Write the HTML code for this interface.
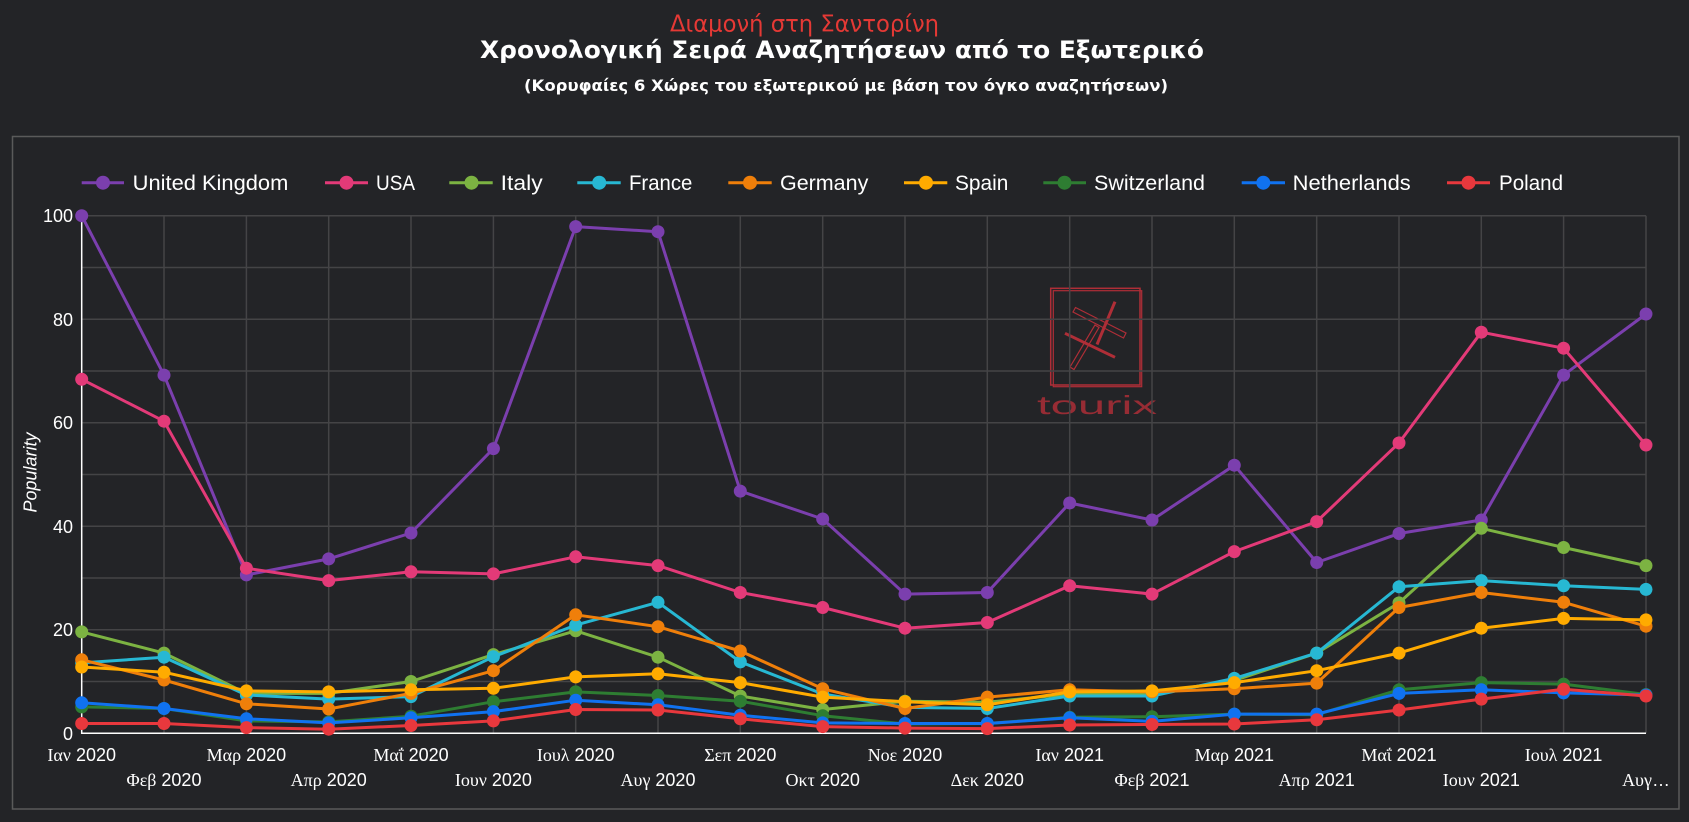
<!DOCTYPE html>
<html>
<head>
<meta charset="utf-8">
<style>
  html, body { margin:0; padding:0; background:#232427; }
  body { width:1689px; height:822px; overflow:hidden; }
  svg { display:block; }
  text { font-family:"Liberation Sans", "DejaVu Sans", sans-serif; }
  .gr { font-family:"Liberation Serif", "DejaVu Serif", serif; }
  .tt { font-family:"DejaVu Sans", "Liberation Sans", sans-serif; }
</style>
</head>
<body>
<svg width="1689" height="822" viewBox="0 0 1689 822" xmlns="http://www.w3.org/2000/svg">
  <rect x="0" y="0" width="1689" height="822" fill="#232427"/>

  <!-- Titles -->
  <text class="tt" x="670" y="31.5" font-size="23" fill="#e53935" textLength="269" lengthAdjust="spacingAndGlyphs">Διαμονή στη Σαντορίνη</text>
  <text class="tt" x="842" y="58" text-anchor="middle" font-size="24" font-weight="bold" fill="#ffffff" textLength="724" lengthAdjust="spacingAndGlyphs">Χρονολογική Σειρά Αναζητήσεων από το Εξωτερικό</text>
  <text class="tt" x="846" y="91" text-anchor="middle" font-size="16" font-weight="bold" fill="#ffffff" textLength="644" lengthAdjust="spacingAndGlyphs">(Κορυφαίες 6 Χώρες του εξωτερικού με βάση τον όγκο αναζητήσεων)</text>

  <!-- Frame -->
  <rect x="12.5" y="136.5" width="1666.5" height="672.5" fill="none" stroke="#5a5a5a" stroke-width="1.5"/>

  <!-- Logo (behind grid) -->
  <g opacity="0.85" stroke="#c8303a" fill="none">
    <rect x="1050.7" y="288.3" width="89.3" height="96.7" stroke-width="1.5"/>
    <rect x="1053.3" y="290.7" width="88.4" height="96" stroke-width="1.2"/>
    <line x1="1115" y1="301.7" x2="1097" y2="344.5" stroke-width="3"/>
    <line x1="1065" y1="333.3" x2="1115" y2="357.3" stroke-width="3"/>
    <polygon points="1073,312 1075.5,307.5 1126,333 1123.5,338" stroke-width="1.2"/>
    <polygon points="1095,325 1099,327.5 1074,369.5 1070,367" stroke-width="1.2"/>
  </g>
  <text x="1037" y="414" font-size="26" fill="#c8303a" opacity="0.7" textLength="120" lengthAdjust="spacingAndGlyphs">tourix</text>

  <!-- Horizontal grid -->
  <g stroke="#444446" stroke-width="1.5">
    <line x1="81.7" y1="681.5" x2="1646" y2="681.5"/>
    <line x1="81.7" y1="629.8" x2="1646" y2="629.8"/>
    <line x1="81.7" y1="578.0" x2="1646" y2="578.0"/>
    <line x1="81.7" y1="526.3" x2="1646" y2="526.3"/>
    <line x1="81.7" y1="474.5" x2="1646" y2="474.5"/>
    <line x1="81.7" y1="422.7" x2="1646" y2="422.7"/>
    <line x1="81.7" y1="371.0" x2="1646" y2="371.0"/>
    <line x1="81.7" y1="319.2" x2="1646" y2="319.2"/>
    <line x1="81.7" y1="267.5" x2="1646" y2="267.5"/>
    <line x1="81.7" y1="215.7" x2="1646" y2="215.7"/>
  </g>
  <!-- Vertical grid -->
  <g stroke="#444446" stroke-width="1.5">
    <line x1="164.0" y1="215.7" x2="164.0" y2="733.3"/>
    <line x1="246.4" y1="215.7" x2="246.4" y2="733.3"/>
    <line x1="328.7" y1="215.7" x2="328.7" y2="733.3"/>
    <line x1="411.0" y1="215.7" x2="411.0" y2="733.3"/>
    <line x1="493.4" y1="215.7" x2="493.4" y2="733.3"/>
    <line x1="575.7" y1="215.7" x2="575.7" y2="733.3"/>
    <line x1="658.0" y1="215.7" x2="658.0" y2="733.3"/>
    <line x1="740.3" y1="215.7" x2="740.3" y2="733.3"/>
    <line x1="822.7" y1="215.7" x2="822.7" y2="733.3"/>
    <line x1="905.0" y1="215.7" x2="905.0" y2="733.3"/>
    <line x1="987.3" y1="215.7" x2="987.3" y2="733.3"/>
    <line x1="1069.7" y1="215.7" x2="1069.7" y2="733.3"/>
    <line x1="1152.0" y1="215.7" x2="1152.0" y2="733.3"/>
    <line x1="1234.3" y1="215.7" x2="1234.3" y2="733.3"/>
    <line x1="1316.7" y1="215.7" x2="1316.7" y2="733.3"/>
    <line x1="1399.0" y1="215.7" x2="1399.0" y2="733.3"/>
    <line x1="1481.3" y1="215.7" x2="1481.3" y2="733.3"/>
    <line x1="1563.6" y1="215.7" x2="1563.6" y2="733.3"/>
    <line x1="1646.0" y1="215.7" x2="1646.0" y2="733.3"/>
  </g>

  <!-- Axes -->
  <line x1="81.7" y1="215.7" x2="81.7" y2="734" stroke="#ffffff" stroke-width="1.5"/>
  <line x1="81" y1="733.3" x2="1646" y2="733.3" stroke="#ffffff" stroke-width="1.5"/>

  <!-- Y tick labels -->
  <g font-size="18" fill="#ffffff" text-anchor="end">
    <text x="73" y="740">0</text>
    <text x="73" y="636">20</text>
    <text x="73" y="533">40</text>
    <text x="73" y="429">60</text>
    <text x="73" y="326">80</text>
    <text x="73" y="222">100</text>
  </g>
  <text transform="translate(36.5,472.5) rotate(-90)" text-anchor="middle" font-size="18" font-style="italic" fill="#ffffff">Popularity</text>

  <!-- X tick labels -->
  <g font-size="18" fill="#ffffff" text-anchor="middle">
    <text x="81.7" y="761"><tspan class="gr">Ιαν</tspan> 2020</text>
    <text x="164.0" y="786"><tspan class="gr">Φεβ</tspan> 2020</text>
    <text x="246.4" y="761"><tspan class="gr">Μαρ</tspan> 2020</text>
    <text x="328.7" y="786"><tspan class="gr">Απρ</tspan> 2020</text>
    <text x="411.0" y="761"><tspan class="gr">Μαΐ</tspan> 2020</text>
    <text x="493.4" y="786"><tspan class="gr">Ιουν</tspan> 2020</text>
    <text x="575.7" y="761"><tspan class="gr">Ιουλ</tspan> 2020</text>
    <text x="658.0" y="786"><tspan class="gr">Αυγ</tspan> 2020</text>
    <text x="740.3" y="761"><tspan class="gr">Σεπ</tspan> 2020</text>
    <text x="822.7" y="786"><tspan class="gr">Οκτ</tspan> 2020</text>
    <text x="905.0" y="761"><tspan class="gr">Νοε</tspan> 2020</text>
    <text x="987.3" y="786"><tspan class="gr">Δεκ</tspan> 2020</text>
    <text x="1069.7" y="761"><tspan class="gr">Ιαν</tspan> 2021</text>
    <text x="1152.0" y="786"><tspan class="gr">Φεβ</tspan> 2021</text>
    <text x="1234.3" y="761"><tspan class="gr">Μαρ</tspan> 2021</text>
    <text x="1316.7" y="786"><tspan class="gr">Απρ</tspan> 2021</text>
    <text x="1399.0" y="761"><tspan class="gr">Μαΐ</tspan> 2021</text>
    <text x="1481.3" y="786"><tspan class="gr">Ιουν</tspan> 2021</text>
    <text x="1563.6" y="761"><tspan class="gr">Ιουλ</tspan> 2021</text>
    <text x="1646.0" y="786"><tspan class="gr">Αυγ</tspan>…</text>
  </g>

  <defs>
    <marker id="mUK" viewBox="0 0 14 14" refX="7" refY="7" markerWidth="14" markerHeight="14" markerUnits="userSpaceOnUse"><circle cx="7" cy="7" r="6.5" fill="#7b3fae"/></marker>
    <marker id="mUS" viewBox="0 0 14 14" refX="7" refY="7" markerWidth="14" markerHeight="14" markerUnits="userSpaceOnUse"><circle cx="7" cy="7" r="6.5" fill="#e33a78"/></marker>
    <marker id="mIT" viewBox="0 0 14 14" refX="7" refY="7" markerWidth="14" markerHeight="14" markerUnits="userSpaceOnUse"><circle cx="7" cy="7" r="6.5" fill="#7cb342"/></marker>
    <marker id="mFR" viewBox="0 0 14 14" refX="7" refY="7" markerWidth="14" markerHeight="14" markerUnits="userSpaceOnUse"><circle cx="7" cy="7" r="6.5" fill="#27b8d3"/></marker>
    <marker id="mDE" viewBox="0 0 14 14" refX="7" refY="7" markerWidth="14" markerHeight="14" markerUnits="userSpaceOnUse"><circle cx="7" cy="7" r="6.5" fill="#ef7f0a"/></marker>
    <marker id="mES" viewBox="0 0 14 14" refX="7" refY="7" markerWidth="14" markerHeight="14" markerUnits="userSpaceOnUse"><circle cx="7" cy="7" r="6.5" fill="#ffab00"/></marker>
    <marker id="mCH" viewBox="0 0 14 14" refX="7" refY="7" markerWidth="14" markerHeight="14" markerUnits="userSpaceOnUse"><circle cx="7" cy="7" r="6.5" fill="#2e7d32"/></marker>
    <marker id="mNL" viewBox="0 0 14 14" refX="7" refY="7" markerWidth="14" markerHeight="14" markerUnits="userSpaceOnUse"><circle cx="7" cy="7" r="6.5" fill="#1072f0"/></marker>
    <marker id="mPL" viewBox="0 0 14 14" refX="7" refY="7" markerWidth="14" markerHeight="14" markerUnits="userSpaceOnUse"><circle cx="7" cy="7" r="6.5" fill="#e8383d"/></marker>
  </defs>

  <!-- Series -->
  <g fill="none" stroke-width="3" stroke-linejoin="round">
    <polyline stroke="#7b3fae" marker-start="url(#mUK)" marker-mid="url(#mUK)" marker-end="url(#mUK)"
      points="81.7,215.7 164.0,375.1 246.4,574.9 328.7,558.9 411.0,533.0 493.4,448.6 575.7,226.6 658.0,231.7 740.3,491.1 822.7,519.0 905.0,594.1 987.3,592.5 1069.7,503.0 1152.0,520.0 1234.3,465.2 1316.7,562.5 1399.0,533.5 1481.3,520.0 1563.6,375.1 1646.0,314.0"/>
    <polyline stroke="#e33a78" marker-start="url(#mUS)" marker-mid="url(#mUS)" marker-end="url(#mUS)"
      points="81.7,379.3 164.0,421.2 246.4,568.2 328.7,580.6 411.0,571.8 493.4,573.9 575.7,556.8 658.0,565.6 740.3,592.5 822.7,607.5 905.0,628.2 987.3,622.5 1069.7,585.8 1152.0,594.1 1234.3,551.6 1316.7,521.6 1399.0,442.9 1481.3,332.2 1563.6,348.2 1646.0,445.0"/>
    <polyline stroke="#7cb342" marker-start="url(#mIT)" marker-mid="url(#mIT)" marker-end="url(#mIT)"
      points="81.7,631.9 164.0,653.1 246.4,693.4 328.7,693.4 411.0,681.5 493.4,654.6 575.7,630.8 658.0,657.2 740.3,696.0 822.7,709.5 905.0,701.2 987.3,702.2 1069.7,694.0 1152.0,693.4 1234.3,680.5 1316.7,653.1 1399.0,602.9 1481.3,528.3 1563.6,547.5 1646.0,565.6"/>
    <polyline stroke="#27b8d3" marker-start="url(#mFR)" marker-mid="url(#mFR)" marker-end="url(#mFR)"
      points="81.7,662.9 164.0,657.2 246.4,695.0 328.7,699.1 411.0,696.6 493.4,656.7 575.7,625.1 658.0,602.3 740.3,661.9 822.7,694.0 905.0,707.4 987.3,708.5 1069.7,696.0 1152.0,696.0 1234.3,678.4 1316.7,653.1 1399.0,586.8 1481.3,580.6 1563.6,585.8 1646.0,589.4"/>
    <polyline stroke="#ef7f0a" marker-start="url(#mDE)" marker-mid="url(#mDE)" marker-end="url(#mDE)"
      points="81.7,659.8 164.0,680.0 246.4,703.8 328.7,709.0 411.0,693.4 493.4,670.7 575.7,614.8 658.0,626.7 740.3,651.0 822.7,688.8 905.0,708.5 987.3,697.1 1069.7,689.8 1152.0,691.9 1234.3,688.8 1316.7,683.1 1399.0,607.5 1481.3,592.5 1563.6,602.3 1646.0,626.2"/>
    <polyline stroke="#ffab00" marker-start="url(#mES)" marker-mid="url(#mES)" marker-end="url(#mES)"
      points="81.7,667.0 164.0,672.2 246.4,690.9 328.7,691.9 411.0,689.8 493.4,688.3 575.7,676.9 658.0,673.8 740.3,682.6 822.7,697.1 905.0,701.7 987.3,704.8 1069.7,691.9 1152.0,690.9 1234.3,682.6 1316.7,670.7 1399.0,653.1 1481.3,628.2 1563.6,618.4 1646.0,619.9"/>
    <polyline stroke="#2e7d32" marker-start="url(#mCH)" marker-mid="url(#mCH)" marker-end="url(#mCH)"
      points="81.7,706.9 164.0,708.5 246.4,720.9 328.7,721.9 411.0,716.2 493.4,701.7 575.7,691.9 658.0,695.5 740.3,701.2 822.7,715.7 905.0,724.0 987.3,723.5 1069.7,717.3 1152.0,716.7 1234.3,714.1 1316.7,714.7 1399.0,689.8 1481.3,682.6 1563.6,684.1 1646.0,694.5"/>
    <polyline stroke="#1072f0" marker-start="url(#mNL)" marker-mid="url(#mNL)" marker-end="url(#mNL)"
      points="81.7,702.8 164.0,708.5 246.4,718.8 328.7,722.9 411.0,717.8 493.4,711.6 575.7,700.2 658.0,704.8 740.3,715.2 822.7,722.9 905.0,723.5 987.3,723.5 1069.7,717.8 1152.0,721.4 1234.3,714.1 1316.7,714.1 1399.0,693.4 1481.3,689.8 1563.6,692.9 1646.0,695.0"/>
    <polyline stroke="#e8383d" marker-start="url(#mPL)" marker-mid="url(#mPL)" marker-end="url(#mPL)"
      points="81.7,723.5 164.0,723.5 246.4,727.6 328.7,729.2 411.0,725.5 493.4,720.9 575.7,709.5 658.0,710.0 740.3,718.8 822.7,726.6 905.0,728.1 987.3,728.6 1069.7,725.0 1152.0,724.5 1234.3,724.0 1316.7,719.8 1399.0,710.0 1481.3,699.1 1563.6,689.3 1646.0,696.0"/>
  </g>

  <!-- Legend -->
  <g stroke-width="3">
    <line x1="81.7" y1="182.7" x2="124" y2="182.7" stroke="#7b3fae"/>
    <line x1="325" y1="182.7" x2="368" y2="182.7" stroke="#e33a78"/>
    <line x1="449.3" y1="182.7" x2="492.7" y2="182.7" stroke="#7cb342"/>
    <line x1="577.3" y1="182.7" x2="620.7" y2="182.7" stroke="#27b8d3"/>
    <line x1="728.3" y1="182.7" x2="771.7" y2="182.7" stroke="#ef7f0a"/>
    <line x1="904" y1="182.7" x2="947.3" y2="182.7" stroke="#ffab00"/>
    <line x1="1043.3" y1="182.7" x2="1086" y2="182.7" stroke="#2e7d32"/>
    <line x1="1241.7" y1="182.7" x2="1285" y2="182.7" stroke="#1072f0"/>
    <line x1="1447" y1="182.7" x2="1490" y2="182.7" stroke="#e8383d"/>
  </g>
  <g>
    <circle cx="103" cy="182.7" r="7" fill="#7b3fae"/>
    <circle cx="346.5" cy="182.7" r="7" fill="#e33a78"/>
    <circle cx="471.5" cy="182.7" r="7" fill="#7cb342"/>
    <circle cx="599.2" cy="182.7" r="7" fill="#27b8d3"/>
    <circle cx="750" cy="182.7" r="7" fill="#ef7f0a"/>
    <circle cx="926" cy="182.7" r="7" fill="#ffab00"/>
    <circle cx="1064.5" cy="182.7" r="7" fill="#2e7d32"/>
    <circle cx="1263.3" cy="182.7" r="7" fill="#1072f0"/>
    <circle cx="1468.5" cy="182.7" r="7" fill="#e8383d"/>
  </g>
  <g font-size="21" fill="#ffffff">
    <text x="132.7" y="190" textLength="155.6" lengthAdjust="spacingAndGlyphs">United Kingdom</text>
    <text x="376" y="190" textLength="39" lengthAdjust="spacingAndGlyphs">USA</text>
    <text x="500.7" y="190" textLength="42" lengthAdjust="spacingAndGlyphs">Italy</text>
    <text x="629" y="190" textLength="63.3" lengthAdjust="spacingAndGlyphs">France</text>
    <text x="780" y="190" textLength="88.3" lengthAdjust="spacingAndGlyphs">Germany</text>
    <text x="955" y="190" textLength="53.3" lengthAdjust="spacingAndGlyphs">Spain</text>
    <text x="1094" y="190" textLength="111" lengthAdjust="spacingAndGlyphs">Switzerland</text>
    <text x="1292.7" y="190" textLength="118" lengthAdjust="spacingAndGlyphs">Netherlands</text>
    <text x="1499" y="190" textLength="64" lengthAdjust="spacingAndGlyphs">Poland</text>
  </g>
</svg>
</body>
</html>
